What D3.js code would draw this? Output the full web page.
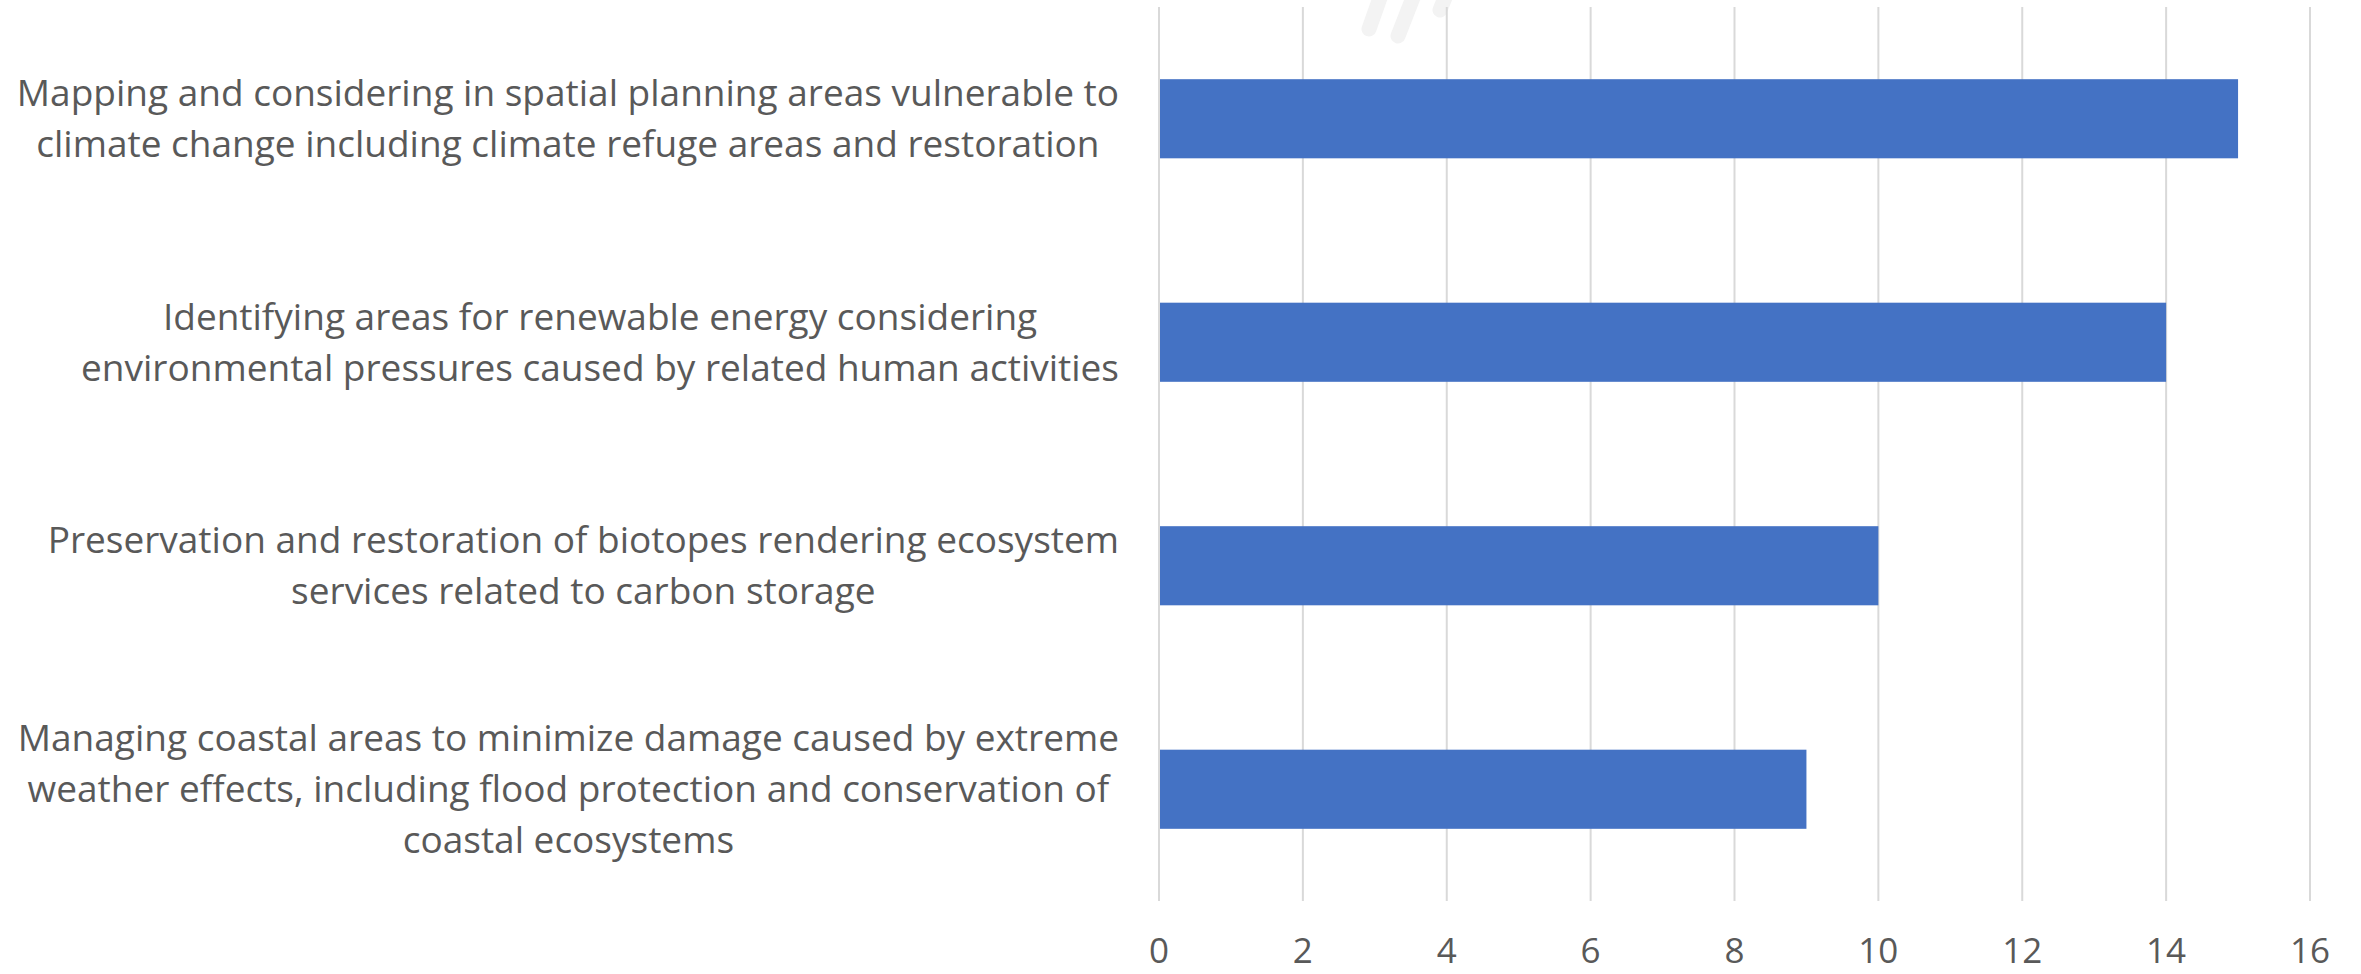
<!DOCTYPE html>
<html>
<head>
    <meta charset="utf-8">
    <title>bar</title>
    <style>
        body { margin: 0; background: #fff; }
        .grid line { stroke: #d9d9d9; stroke-width: 2px; }
        .tick-label { font-family: "Open Sans", sans-serif; fill: #595959; }
        .cat-label { font-family: "Open Sans", sans-serif; fill: #595959; }
    </style>
</head>
<body>
<script src="https://cdn.jsdelivr.net/npm/d3@7"></script>
<script>
    // categories, top to bottom, split into lines as in the chart
    var categories = [
        ["Mapping and considering in spatial planning areas vulnerable to",
         "climate change including climate refuge areas and restoration"],
        ["Identifying areas for renewable energy considering",
         "environmental pressures caused by related human activities"],
        ["Preservation and restoration of biotopes rendering ecosystem",
         "services related to carbon storage"],
        ["Managing coastal areas to minimize damage caused by extreme",
         "weather effects, including flood protection and conservation of",
         "coastal ecosystems"]
    ];
    var values = [15, 14, 10, 9];
    var xTicks = [0, 2, 4, 6, 8, 10, 12, 14, 16];

    var W = 2361, H = 974;
    var margin = {top: 7, right: 51, bottom: 73, left: 1159};
    var width = W - margin.left - margin.right,
        height = H - margin.top - margin.bottom;

    var svg = d3.select("body").append("svg")
        .attr("width", W)
        .attr("height", H);

    // faint watermark strokes at the top
    var wm = svg.append("g")
        .attr("stroke", "#f3f3f3")
        .attr("stroke-width", 15)
        .attr("stroke-linecap", "round");
    [[1369, 29, 1381, -5], [1398, 36, 1414, -5], [1440, 10, 1446, -5]].forEach(function (s) {
        wm.append("line").attr("x1", s[0]).attr("y1", s[1]).attr("x2", s[2]).attr("y2", s[3]);
    });

    var g = svg.append("g")
        .attr("transform", "translate(" + margin.left + "," + margin.top + ")");

    var x = d3.scaleLinear()
        .domain([0, 16])
        .range([0, width]);

    var y = d3.scaleBand()
        .domain(d3.range(categories.length))
        .range([0, height])
        .paddingInner(0.646)
        .paddingOuter(0.323);

    // vertical gridlines
    g.append("g")
        .attr("class", "grid")
        .selectAll("line")
        .data(xTicks)
        .enter().append("line")
        .attr("x1", function (d) { return x(d); })
        .attr("x2", function (d) { return x(d); })
        .attr("y1", 0)
        .attr("y2", height);

    // tick labels
    g.append("g")
        .selectAll("text")
        .data(xTicks)
        .enter().append("text")
        .attr("class", "tick-label")
        .attr("x", function (d) { return x(d); })
        .attr("y", height + 62)
        .attr("text-anchor", "middle")
        .style("font-size", "35px")
        .text(function (d) { return d; });

    // bars
    g.selectAll("rect.bar")
        .data(values)
        .enter().append("rect")
        .attr("class", "bar")
        .attr("x", x(0) + 1)
        .attr("y", function (d, i) { return y(i); })
        .attr("width", function (d) { return x(d) - x(0) - 1; })
        .attr("height", y.bandwidth())
        .attr("fill", "#4472c4");

    // category labels: lines centred within a block whose right edge is fixed
    var labelRight = 1119, lineH = 51, fs = 37;
    categories.forEach(function (lines, i) {
        var cy = margin.top + y(i) + y.bandwidth() / 2;
        var grp = svg.append("g");
        var texts = grp.selectAll("text")
            .data(lines)
            .enter().append("text")
            .attr("class", "cat-label")
            .style("font-size", fs + "px")
            .attr("text-anchor", "middle")
            .attr("dy", "0.35em")
            .attr("y", function (d, k) { return cy + (k - (lines.length - 1) / 2) * lineH; })
            .text(function (d) { return d; });
        var maxW = d3.max(texts.nodes(), function (n) { return n.getComputedTextLength(); });
        texts.attr("x", labelRight - maxW / 2);
    });
</script>
</body>
</html>
